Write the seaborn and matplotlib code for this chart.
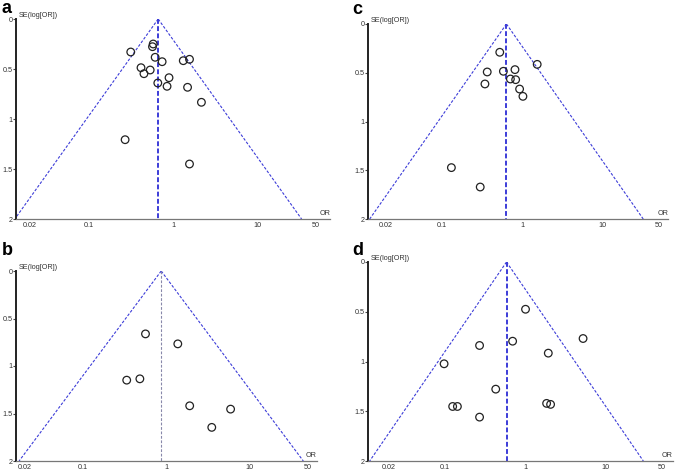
import numpy as np
import pandas as pd
import seaborn as sns
import matplotlib
matplotlib.use("Agg")
import matplotlib.pyplot as plt

sns.set_style("white")
plt.rcParams["font.family"] = ["Liberation Sans Narrow", "Liberation Sans", "DejaVu Sans"]

# ---- data (OR, SE of log OR) ----
a_or = [0.315, 0.582, 0.571, 0.614, 0.743, 1.324, 1.57, 0.417, 0.452, 0.536,
        0.897, 0.660, 0.85, 1.489, 2.175, 0.270, 1.57]
a_se = [0.33, 0.25, 0.277, 0.383, 0.427, 0.417, 0.403, 0.487, 0.547, 0.51,
        0.587, 0.64, 0.673, 0.683, 0.833, 1.207, 1.45]
a_pooled = 0.667

b_or = [0.564, 1.375, 0.336, 0.483, 1.909, 5.9, 3.51]
b_se = [0.662, 0.767, 1.149, 1.135, 1.419, 1.454, 1.646]
b_pooled = 0.87

c_or = [0.52, 1.52, 0.363, 0.577, 0.804, 0.705, 0.82, 0.34, 0.918, 1.01, 0.130, 0.297]
c_se = [0.29, 0.414, 0.492, 0.485, 0.468, 0.564, 0.571, 0.615, 0.667, 0.742, 1.473, 1.672]
c_pooled = 0.63

d_or = [1.0, 5.2, 0.268, 0.691, 1.92, 0.097, 0.426, 0.124, 0.142, 0.268, 1.83, 2.05]
d_se = [0.475, 0.769, 0.839, 0.796, 0.916, 1.023, 1.278, 1.452, 1.452, 1.559, 1.421, 1.431]
d_pooled = 0.58

x_ticks = [0.02, 0.1, 1, 10, 50]
x_ticklabels = ["0.02", "0.1", "1", "10", "50"]
y_ticks = [0, 0.5, 1, 1.5, 2]
y_ticklabels = ["0", "0.5", "1", "1.5", "2"]

W, H = 685, 471
fig = plt.figure(figsize=(W / 100, H / 100), dpi=100)

funnel_col = "#3c3cd8"
txt_col = "#333333"
fs = 5.2

# panel: label, data, pooled, pixel box (left, right, top, bottom), log10 xlim,
# centre line style, panel letter position (px)
panels = [
    ("a", a_or, a_se, a_pooled, (16, 330, 19, 219), (-1.864, 1.864), "blue", (2, 0)),
    ("b", b_or, b_se, b_pooled, (16, 317, 271, 461), (-1.80, 1.806), "grey", (2, 242)),
    ("c", c_or, c_se, c_pooled, (368, 668, 24, 219), (-1.924, 1.81), "blue", (352, 1)),
    ("d", d_or, d_se, d_pooled, (368, 673, 262, 461), (-1.96, 1.835), "blue", (352, 242)),
]

for label, ors, ses, pooled, box, xl, centre, lpos in panels:
    l, r, t, b = box
    ax = fig.add_axes([l / W, 1 - b / H, (r - l) / W, (b - t) / H])
    df = pd.DataFrame({"OR": ors, "SE": ses})

    # funnel: pooled OR +/- 1.96*SE on the log scale
    se_line = np.array([0, 2.0])
    lo = np.exp(np.log(pooled) - 1.96 * se_line)
    hi = np.exp(np.log(pooled) + 1.96 * se_line)
    ax.plot(lo, se_line, color=funnel_col, lw=0.8, ls=(0, (2.5, 1.5)), zorder=1)
    ax.plot(hi, se_line, color=funnel_col, lw=0.8, ls=(0, (2.5, 1.5)), zorder=1)
    if centre == "blue":
        ax.plot([pooled, pooled], [0, 2], color=funnel_col, lw=1.4, ls=(0, (2.5, 1.2)), zorder=1)
    else:
        ax.plot([pooled, pooled], [0, 2], color="#8888aa", lw=0.8, ls=(0, (2.5, 1.5)), zorder=1)

    sns.scatterplot(data=df, x="OR", y="SE", ax=ax, marker="o", s=30,
                    facecolor="none", edgecolor="#222222", linewidth=0.9, zorder=3)

    ax.set_xscale("log")
    ax.set_xlim(10 ** xl[0], 10 ** xl[1])
    ax.set_ylim(2, 0)
    ax.set_xticks(x_ticks)
    ax.set_xticklabels(x_ticklabels)
    ax.minorticks_off()
    ax.set_yticks(y_ticks)
    ax.set_yticklabels(y_ticklabels)
    ax.set_xlabel("")
    ax.set_ylabel("")

    sns.despine(ax=ax)
    ax.spines["left"].set_color("#222222")
    ax.spines["left"].set_linewidth(1.4)
    ax.spines["bottom"].set_color("#777777")
    ax.spines["bottom"].set_linewidth(0.9)
    ax.tick_params(axis="x", direction="inout", length=5, width=0.8, color="#444444",
                   labelsize=fs, labelcolor=txt_col, pad=0)
    ax.tick_params(axis="y", direction="out", length=2, width=0.8, color="#444444",
                   labelsize=fs, labelcolor=txt_col, pad=0.3, left=True)
    ax.patch.set_alpha(0)

    ax.annotate("SE(log[OR])", xy=(0, 1), xycoords="axes fraction", xytext=(2, 0),
                textcoords="offset points", ha="left", va="bottom", fontsize=fs, color=txt_col)
    ax.annotate("OR", xy=(1, 0), xycoords="axes fraction", xytext=(0, 1.5),
                textcoords="offset points", ha="right", va="bottom", fontsize=fs, color=txt_col)

    fig.text(lpos[0] / W, 1 - lpos[1] / H, label, fontsize=13, fontweight="bold",
             ha="left", va="top", color="black", family=["Liberation Sans", "DejaVu Sans"])

fig.savefig("out.png", dpi=100)
